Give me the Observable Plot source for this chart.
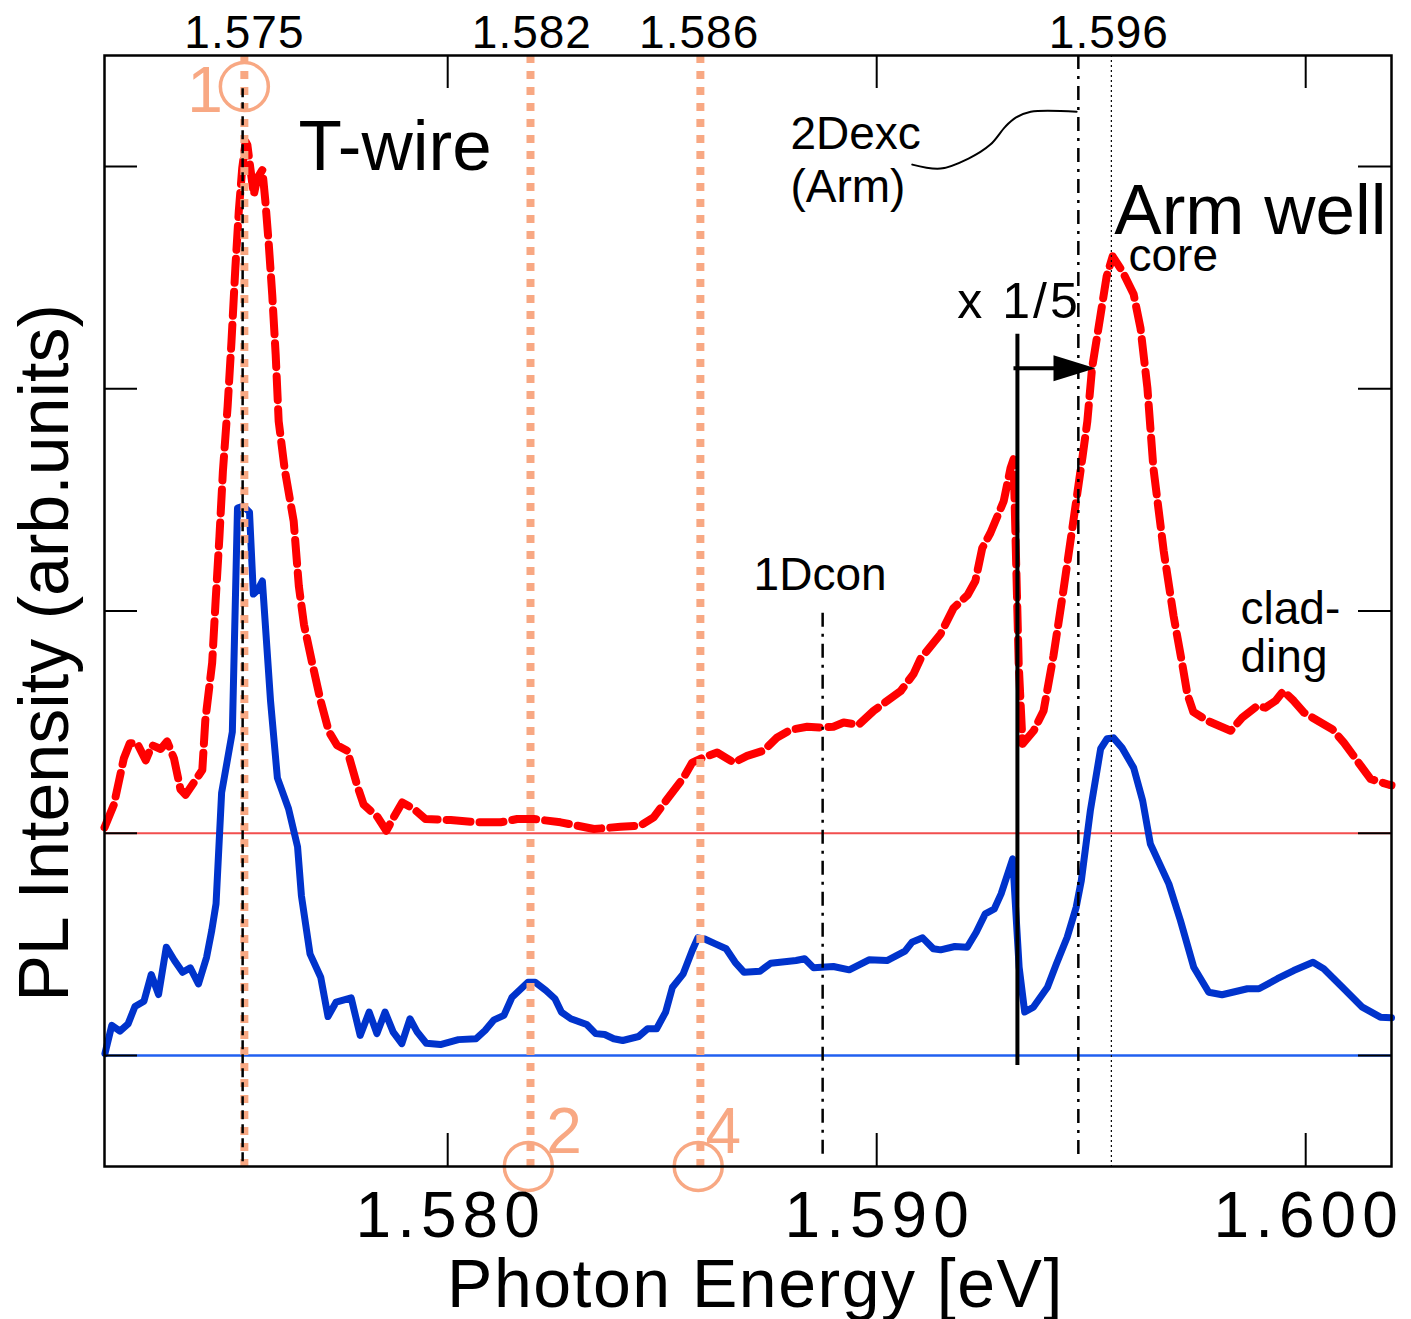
<!DOCTYPE html>
<html><head><meta charset="utf-8">
<script src="https://cdn.jsdelivr.net/npm/d3@7"></script>
<script src="https://cdn.jsdelivr.net/npm/@observablehq/plot@0.6"></script>
<style>body{margin:0;background:#fff;} svg{display:block;}</style>
</head><body><div id="chart"></div>
<script>
// ---- data (photon energy in eV, PL intensity in arb. units, offset traces) ----
const blueE = [1.57201,1.57217,1.57236,1.57255,1.57271,1.57292,1.57309,1.57326,1.57344,1.57363,
1.57382,1.57400,1.57419,1.57438,1.57450,1.57460,1.57473,1.57498,1.57510,1.57524,
1.57538,1.57547,1.57557,1.57568,1.57587,1.57603,1.57629,1.57650,1.57659,1.57679,
1.57704,1.57721,1.57740,1.57775,1.57796,1.57817,1.57835,1.57854,1.57873,1.57893,
1.57912,1.57929,1.57950,1.57983,1.58025,1.58066,1.58087,1.58108,1.58131,1.58150,
1.58187,1.58204,1.58229,1.58250,1.58265,1.58287,1.58324,1.58345,1.58366,1.58387,
1.58408,1.58445,1.58466,1.58487,1.58508,1.58524,1.58549,1.58570,1.58583,1.58599,
1.58624,1.58649,1.58670,1.58691,1.58728,1.58753,1.58812,1.58832,1.58853,1.58899,
1.58936,1.58982,1.59024,1.59066,1.59082,1.59107,1.59132,1.59149,1.59182,1.59211,
1.59232,1.59253,1.59274,1.59290,1.59317,1.59332,1.59345,1.59365,1.59398,1.59419,
1.59444,1.59465,1.59477,1.59498,1.59522,1.59537,1.59552,1.59572,1.59599,1.59620,
1.59638,1.59681,1.59708,1.59739,1.59774,1.59805,1.59864,1.59891,1.59934,1.59972,
1.60017,1.60042,1.60089,1.60132,1.60174,1.60200];
const blueI = [0.008,0.135,0.109,0.142,0.220,0.244,0.364,0.274,0.487,0.427,
0.374,0.394,0.322,0.442,0.562,0.682,1.182,1.456,2.463,2.472,
2.445,2.076,2.094,2.135,1.596,1.249,1.110,0.939,0.719,0.457,
0.352,0.175,0.240,0.259,0.090,0.195,0.098,0.195,0.105,0.053,
0.165,0.105,0.055,0.049,0.071,0.075,0.112,0.160,0.180,0.262,
0.329,0.329,0.292,0.255,0.195,0.165,0.139,0.098,0.094,0.075,
0.067,0.085,0.120,0.120,0.195,0.307,0.367,0.472,0.529,0.524,
0.502,0.480,0.419,0.374,0.379,0.415,0.427,0.435,0.394,0.400,
0.385,0.430,0.427,0.469,0.509,0.529,0.480,0.475,0.490,0.487,
0.554,0.637,0.659,0.727,0.885,0.397,0.195,0.217,0.307,0.412,
0.532,0.667,0.787,1.101,1.380,1.425,1.429,1.384,1.294,1.146,
0.951,0.772,0.607,0.397,0.284,0.273,0.300,0.300,0.345,0.382,
0.419,0.390,0.300,0.217,0.172,0.169];

const redE = [1.57200,1.57222,1.57245,1.57259,1.57276,1.57296,1.57311,1.57331,1.57346,1.57362,
1.57377,1.57389,1.57416,1.57428,1.57435,1.57451,1.57459,1.57468,1.57476,1.57487,
1.57496,1.57505,1.57513,1.57521,1.57529,1.57533,1.57540,1.57548,1.57556,1.57568,
1.57575,1.57583,1.57591,1.57599,1.57606,1.57620,1.57641,1.57653,1.57665,1.57684,
1.57704,1.57723,1.57742,1.57766,1.57789,1.57804,1.57836,1.57857,1.57874,1.57894,
1.57921,1.57948,1.58007,1.58069,1.58123,1.58162,1.58201,1.58263,1.58341,1.58403,
1.58449,1.58480,1.58512,1.58550,1.58570,1.58597,1.58628,1.58667,1.58698,1.58736,
1.58768,1.58799,1.58838,1.58869,1.58899,1.58923,1.58958,1.58993,1.59056,1.59086,
1.59102,1.59149,1.59179,1.59212,1.59230,1.59246,1.59265,1.59296,1.59312,1.59319,
1.59331,1.59340,1.59366,1.59389,1.59412,1.59435,1.59459,1.59480,1.59491,1.59502,
1.59522,1.59536,1.59550,1.59573,1.59599,1.59615,1.59631,1.59645,1.59669,1.59692,
1.59713,1.59724,1.59738,1.59771,1.59825,1.59852,1.59887,1.59906,1.59930,1.59948,
1.59972,1.59996,1.60035,1.60062,1.60089,1.60120,1.60151,1.60194,1.60200];
const redI = [1.026,1.129,1.336,1.405,1.405,1.328,1.396,1.379,1.413,1.336,
1.198,1.173,1.250,1.284,1.508,1.767,2.045,2.337,2.629,2.921,
3.213,3.543,3.798,3.992,4.112,4.098,3.992,3.873,3.947,3.985,
3.843,3.648,3.423,3.154,2.854,2.638,2.404,2.112,1.939,1.767,
1.594,1.457,1.396,1.371,1.215,1.129,1.074,1.011,1.071,1.138,
1.109,1.064,1.059,1.049,1.049,1.064,1.064,1.049,1.019,1.029,
1.034,1.071,1.154,1.251,1.318,1.341,1.363,1.318,1.348,1.371,
1.431,1.465,1.479,1.476,1.479,1.498,1.488,1.551,1.640,1.717,
1.784,1.897,2.013,2.072,2.135,2.283,2.351,2.494,2.643,2.683,
1.762,1.402,1.461,1.551,1.798,2.090,2.413,2.697,2.854,3.093,
3.335,3.506,3.596,3.528,3.425,3.272,3.004,2.643,2.270,1.978,
1.753,1.627,1.546,1.506,1.461,1.520,1.573,1.565,1.596,1.640,
1.596,1.543,1.498,1.468,1.408,1.326,1.244,1.218,1.216];

// baselines of the two offset traces
const baselines = [0, 1];
// x tick values (bottom axis) and y tick values
const xTicks = [1.580, 1.590, 1.600];
const yTicks = [0, 1, 2, 3, 4];
// marked energies (orange dotted lines) and their labels
const markE = [1.57526, 1.58193, 1.58589];
const topLabelE = [1.57525, 1.58195, 1.58585, 1.59540];
const topLabelText = ["1.575", "1.582", "1.586", "1.596"];
const circleLabel = ["1", "2", "4"];
// reference energies
const eTwire = 1.57522;
const e1Dcon = 1.58874;
const e2Dexc = 1.59470;
const eCore = 1.59547;
const eScale = 1.59328;

// ---- build tables ----
const blue = blueE.map((e, i) => ({E: e, I: blueI[i]}));
const red = redE.map((e, i) => ({E: e, I: redI[i]}));

const orange = "#f8a883";
const X0 = 1.572, X1 = 1.602, Y0 = -0.5, Y1 = 4.5;
const tickX = (X1 - X0) * 33 / 1287; // inward tick length in x units
const tickY = (Y1 - Y0) * 33 / 1111; // inward tick length in y units

const circles = [
  {E: markE[0], I: 4.36},
  {E: 1.58188, I: -0.5},
  {E: 1.58584, I: -0.5}
];
const circleNums = [
  {E: 1.57393, I: 4.340, t: circleLabel[0]},
  {E: 1.58230, I: -0.346, t: circleLabel[1]},
  {E: 1.58601, I: -0.346, t: circleLabel[2]}
];
const connector = [
  {E: 1.59083, I: 4.009}, {E: 1.59149, I: 3.991}, {E: 1.59214, I: 4.036},
  {E: 1.59265, I: 4.099}, {E: 1.59300, I: 4.180}, {E: 1.59324, I: 4.220},
  {E: 1.59359, I: 4.247}, {E: 1.59466, I: 4.247}
];
const bigLabels = [
  {E: 1.57652, I: 4.085, t: "T-wire"},
  {E: 1.59554, I: 3.80, t: "Arm well"}
];
const smallLabels = [
  {E: 1.59587, I: 3.596, t: "core"},
  {E: 1.58799, I: 4.146, t: "2Dexc"},
  {E: 1.58799, I: 3.906, t: "(Arm)"},
  {E: 1.58713, I: 2.162, t: "1Dcon"},
  {E: 1.59848, I: 2.008, t: "clad-"},
  {E: 1.59848, I: 1.791, t: "ding"}
];
const scaleText = "x 1/5";
const xTitle = "Photon Energy [eV]";
const yTitle = "PL Intensity (arb.units)";

const arrowHead = {
  draw(context, size) {
    const s = Math.sqrt(size / Math.PI);
    context.moveTo(2.1 * s, 0);
    context.lineTo(-2.1 * s, -1.3 * s);
    context.lineTo(-2.1 * s, 1.3 * s);
    context.closePath();
  }
};

const chart = Plot.plot({
  width: 1411, height: 1319,
  marginLeft: 104, marginRight: 20, marginTop: 55, marginBottom: 153,
  x: {domain: [X0, X1], axis: null},
  y: {domain: [Y0, Y1], axis: null},
  style: {fontFamily: "'Liberation Sans', Arial, sans-serif", background: "white", overflow: "visible"},
  marks: [
    Plot.ruleY([baselines[1]], {stroke: "#f24e4e", strokeWidth: 2}),
    Plot.ruleY([baselines[0]], {stroke: "#2160f0", strokeWidth: 2.5}),
    Plot.line(blue, {x: "E", y: "I", stroke: "#0033cc", strokeWidth: 7, strokeLinejoin: "round"}),
    Plot.line(red, {x: "E", y: "I", stroke: "#ff0000", strokeWidth: 8, strokeDasharray: "24,9"}),
    // reference lines
    Plot.ruleX(markE, {stroke: orange, strokeWidth: 8, strokeDasharray: "8,8"}),
    Plot.ruleX([eTwire], {y1: 4.35, y2: Y0, stroke: "black", strokeWidth: 2.5, strokeDasharray: "9,5"}),
    Plot.ruleX([e1Dcon], {y1: 1.99, y2: -0.45, stroke: "black", strokeWidth: 2.5, strokeDasharray: "14,7,3,7"}),
    Plot.ruleX([e2Dexc], {y1: Y1, y2: -0.45, stroke: "black", strokeWidth: 2.5, strokeDasharray: "14,7,3,7"}),
    Plot.ruleX([eCore], {stroke: "black", strokeWidth: 1.2, strokeDasharray: "2,3"}),
    Plot.ruleX([eScale], {y1: 3.245, y2: -0.045, stroke: "black", strokeWidth: 4}),
    // x 1/5 arrow
    Plot.ruleY([3.092], {x1: 1.59320, x2: 1.59440, stroke: "black", strokeWidth: 4}),
    Plot.dot([{E: 1.59461, I: 3.092}], {x: "E", y: "I", symbol: arrowHead, r: 10, fill: "black", stroke: "none"}),
    Plot.line(connector, {x: "E", y: "I", curve: "catmull-rom", stroke: "black", strokeWidth: 2}),
    // orange circles and numbers
    Plot.dot(circles, {x: "E", y: "I", r: 24, stroke: orange, strokeWidth: 3.5, fill: "none"}),
    Plot.text(circleNums, {x: "E", y: "I", text: "t", fill: orange, fontSize: 64, textAnchor: "start"}),
    // ticks (inward)
    Plot.ruleY(yTicks, {x1: X0, x2: X0 + tickX, stroke: "black", strokeWidth: 2}),
    Plot.ruleY(yTicks, {x1: X1 - tickX, x2: X1, stroke: "black", strokeWidth: 2}),
    Plot.ruleX(xTicks, {y1: Y0, y2: Y0 + tickY, stroke: "black", strokeWidth: 2}),
    Plot.ruleX(xTicks, {y1: Y1, y2: Y1 - tickY, stroke: "black", strokeWidth: 2}),
    Plot.frame({stroke: "black", strokeWidth: 2.5}),
    // texts
    Plot.text(topLabelE.map((e, i) => ({E: e, t: topLabelText[i]})), {x: "E", y: () => 4.598, text: "t", fontSize: 46, textAnchor: "middle", dx: 0.5}),
    Plot.text(bigLabels, {x: "E", y: "I", text: "t", fontSize: 71, textAnchor: "start"}),
    Plot.text(smallLabels, {x: "E", y: "I", text: "t", fontSize: 46, textAnchor: "start"}),
    Plot.text([{E: 1.59188, I: 3.389, t: scaleText}], {x: "E", y: "I", text: "t", fontSize: 50, textAnchor: "start"}),
    Plot.text(xTicks, {x: d => d, y: () => -0.725, text: d => d.toFixed(3), fontSize: 64, textAnchor: "middle", dx: 3}),
    Plot.text([{E: 1.58715, I: -1.035, t: xTitle}], {x: "E", y: "I", text: "t", fontSize: 68, textAnchor: "middle", dx: 1}),
    Plot.text([{E: 1.570625, I: 1.811, t: yTitle}], {x: "E", y: "I", text: "t", fontSize: 70, rotate: -90, textAnchor: "middle"})
  ]
});
// letter spacing to match the wider glyph set of the original
const spacing = new Map([
  ...xTicks.map(d => [d.toFixed(3), "6px"]),
  ...topLabelText.map(t => [t, "1px"]),
  [xTitle, "1.5px"],
  [scaleText, "3px"]
]);
d3.select(chart).selectAll("text").each(function () {
  const s = spacing.get(this.textContent);
  if (s) this.setAttribute("letter-spacing", s);
});
document.getElementById("chart").appendChild(chart);
</script>
</body></html>
